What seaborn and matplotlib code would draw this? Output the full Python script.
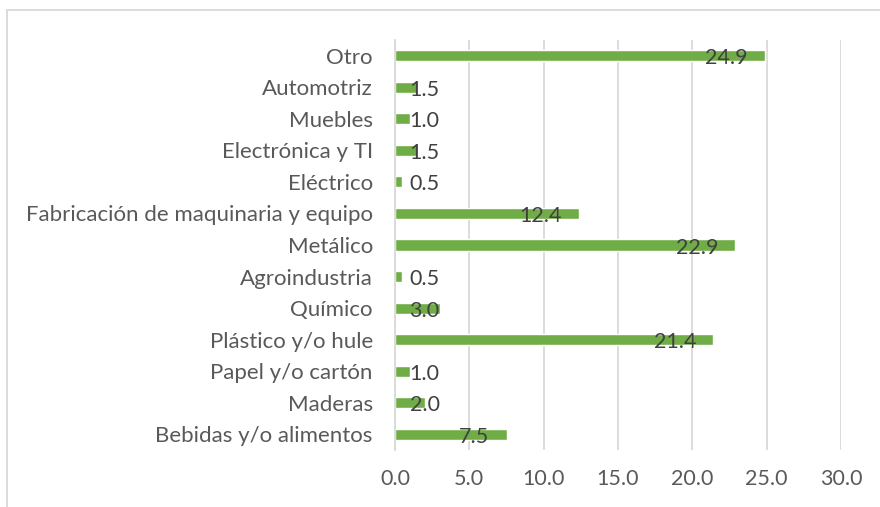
import matplotlib
matplotlib.use("Agg")
import matplotlib.pyplot as plt
import seaborn as sns
import pandas as pd
from matplotlib.patches import Rectangle

categories = ["Otro", "Automotriz", "Muebles", "Electrónica y TI", "Eléctrico",
              "Fabricación de maquinaria y equipo", "Metálico", "Agroindustria",
              "Químico", "Plástico y/o hule", "Papel y/o cartón", "Maderas",
              "Bebidas y/o alimentos"]
values = [24.9, 1.5, 1.0, 1.5, 0.5, 12.4, 22.9, 0.5, 3.0, 21.4, 1.0, 2.0, 7.5]
xticks = [0, 5, 10, 15, 20, 25, 30]

sns.set_style("white")
plt.rcParams['font.family'] = ['Lato', 'DejaVu Sans']

df = pd.DataFrame({"cat": categories, "val": values})

fig = plt.figure(figsize=(8.8, 5.07), dpi=100)
ax = fig.add_axes([395/880, 1-450/507, (841-395)/880, (450-40)/507])

sns.barplot(data=df, y="cat", x="val", orient="h", color="#70AD47",
            saturation=1, width=0.35, ax=ax)

ax.set_xlim(0, 30)
ax.set_ylim(12.5, -0.5)
ax.set_xticks(xticks)
ax.set_xticklabels([f"{t:.1f}" for t in xticks])
ax.xaxis.grid(True, color="#D9D9D9", linewidth=1.3)
ax.set_axisbelow(True)
ax.set_xlabel("")
ax.set_ylabel("")
for s in ["top", "right", "bottom"]:
    ax.spines[s].set_visible(False)
ax.spines["left"].set_color("#D9D9D9")
ax.spines["left"].set_linewidth(1.3)
ax.tick_params(axis="both", length=0, colors="#595959")
ax.tick_params(axis="x", pad=14, labelsize=15.5)
ax.tick_params(axis="y", pad=16, labelsize=16)

for i, v in enumerate(values):
    xr = max(v - 1.15, 3.0)
    ax.text(xr, i + 0.08, f"{v:.1f}", ha="right", va="center",
            fontsize=15.5, color="#404040")

fig.patches.append(Rectangle((7/880, -0.1), 1.2, 1 - 10/507 + 0.1,
                             transform=fig.transFigure, fill=False,
                             edgecolor="#D9D9D9", linewidth=1.3))

fig.savefig("out.png", dpi=100)
